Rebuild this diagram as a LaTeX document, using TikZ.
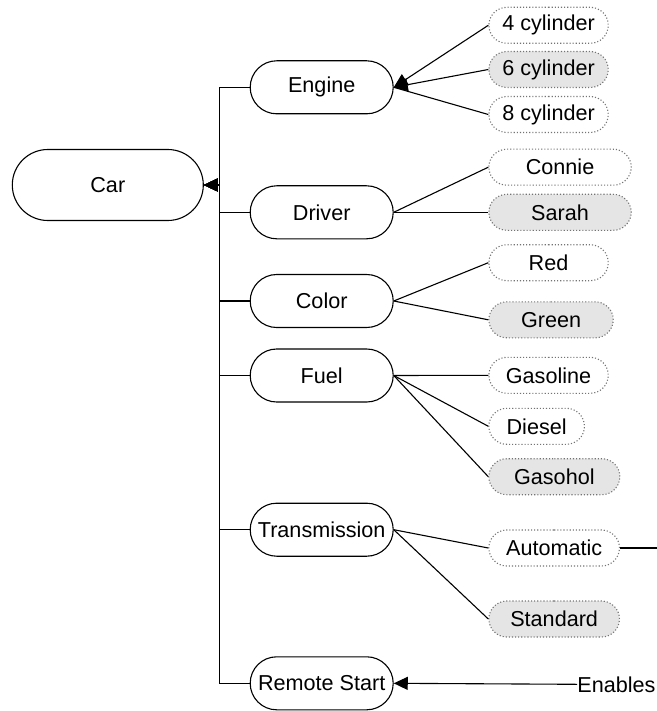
\documentclass[tikz,border=0pt]{standalone}
\usepackage{fontspec}
\setmainfont{Liberation Sans}
\usetikzlibrary{arrows.meta, shapes.misc}

\begin{document}
\begin{tikzpicture}[
  x=0.5pt, y=-0.5pt,
  font=\fontsize{10.8}{12}\selectfont,
  >={Triangle[length=7pt, width=6.5pt]},
  root/.style   ={rounded rectangle, draw=black, line width=0.55pt, fill=white, minimum width=95.5pt, minimum height=35.5pt, inner sep=0pt},
  feat/.style   ={rounded rectangle, draw=black, line width=0.55pt, fill=white, minimum width=71.5pt, minimum height=26.5pt, inner sep=0pt},
  opt/.style    ={rounded rectangle, draw=black!55, densely dotted, line width=0.55pt, fill=white, minimum height=18pt, inner sep=0pt, anchor=west},
  sel/.style    ={opt, fill=black!10},
  arr/.style    ={->, line width=0.55pt, draw=black},
  ln/.style     ={line width=0.55pt, draw=black}
]
\useasboundingbox (0,0) rectangle (657,711);

% ---- root ----
\node[root] (car) at (107.8,185) {Car};

% ---- feature column ----
\node[feat] (eng) at (321.7,87.3)  {Engine};
\node[feat] (drv) at (321.7,212.3) {Driver};
\node[feat] (col) at (321.7,301)   {Color};
\node[feat] (fue) at (321.7,375.5) {Fuel};
\node[feat] (trn) at (321.7,529.7) {Transmission};
\node[feat] (rst) at (321.7,683.3) {Remote Start};

% ---- option column ----
\node[opt, minimum width=59.7pt] (cyl4) at (488.3,25.3)  {4 cylinder};
\node[sel, minimum width=59.7pt] (cyl6) at (488.3,69.5)  {6 cylinder};
\node[opt, minimum width=59.7pt] (cyl8) at (488.3,114.5) {8 cylinder};
\node[opt, minimum width=71.2pt] (con)  at (488.3,167.2) {Connie};
\node[sel, minimum width=71.2pt] (sar)  at (488.3,212.3) {Sarah};
\node[opt, minimum width=59.7pt] (red)  at (488.3,262.7) {Red};
\node[sel, minimum width=62.2pt] (grn)  at (488.3,319.8) {Green};
\node[opt, minimum width=59.7pt] (gsl)  at (488.3,375.3) {Gasoline};
\node[opt, minimum width=47.8pt] (dsl)  at (488.3,426.3) {Diesel};
\node[sel, minimum width=65.5pt] (gsh)  at (488.3,476.7) {Gasohol};
\node[opt, minimum width=65.3pt] (aut)  at (488.3,548)   {Automatic};
\node[sel, minimum width=65.3pt] (std)  at (488.3,619)   {Standard};

% ---- constraint ----
\node[anchor=west, inner sep=0pt] (enb) at (577,684.3) {Enables};
\coordinate (autend) at (657,548);

% ---- edges to root ----
\foreach \f in {eng,drv,col,fue,trn,rst}
  \draw[arr] (\f.west) -- ++(-30,0) |- (car.east);

% ---- edges to options ----
\draw[arr] (cyl4.west) -- (eng.east);
\draw[arr] (cyl6.west) -- (eng.east);
\draw[ln]  (cyl8.west) -- (eng.east);
\draw[ln]  (con.west) -- (drv.east);
\draw[ln]  (sar.west) -- (drv.east);
\draw[ln]  (red.west) -- (col.east);
\draw[ln]  (grn.west) -- (col.east);
\draw[ln]  (gsl.west) -- (fue.east);
\draw[ln]  (dsl.west) -- (fue.east);
\draw[ln]  (gsh.west) -- (fue.east);
\draw[ln]  (aut.west) -- (trn.east);
\draw[ln]  (std.west) -- (trn.east);
\draw[ln]  (aut.east) -- (autend);
\draw[arr] (enb.west) -- (rst.east);

\end{tikzpicture}
\end{document}
